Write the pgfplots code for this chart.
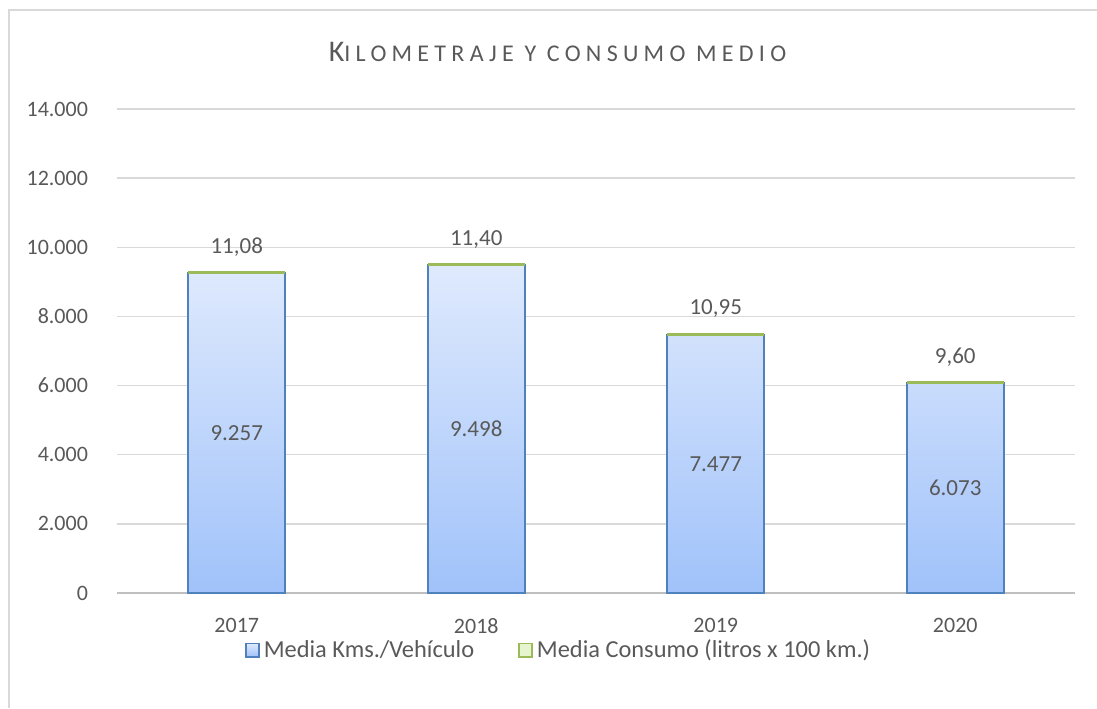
\documentclass[border=0pt]{standalone}
\usepackage{pgfplots}
\usepackage{pgfplotstable}
\pgfplotsset{compat=1.18}
\usepackage{fontspec}
\setmainfont{Carlito}
\newfontfamily\titlefont[LetterSpace=22]{Carlito}
\definecolor{txt}{RGB}{89,89,89}
\definecolor{gridc}{RGB}{217,217,217}
\definecolor{bblue}{RGB}{79,129,189}
\definecolor{btop}{RGB}{223,234,253}
\definecolor{bbot}{RGB}{160,194,250}
\definecolor{gline}{RGB}{155,187,89}
\definecolor{gfill}{RGB}{230,244,207}
\pgfplotstableread{
x kms consumo kmslab consumolab
0 9257 11.08 9.257 11,08
1 9498 11.40 9.498 11,40
2 7477 10.95 7.477 10,95
3 6073 9.60 6.073 9,60
}\datatable
\begin{document}
\begin{tikzpicture}
\path[use as bounding box] (0pt,0pt) rectangle (548.5pt,354pt);
\draw[gridc, line width=1pt] (4.5pt,0pt) -- (4.5pt,349pt) -- (548.5pt,349pt);
\node[txt, anchor=base, inner sep=0pt] at (278.75pt,323pt) {\titlefont\fontsize{15}{17}\selectfont K\fontsize{12}{14}\selectfont ILOMETRAJE Y CONSUMO MEDIO};
\begin{axis}[
  at={(58.5pt,57.5pt)}, anchor=south west,
  width=479pt, height=242pt, scale only axis,
  xmin=-0.5, xmax=3.5, ymin=0, ymax=14000,
  xtick={0,1,2,3}, xticklabels={2017,2018,2019,2020},
  ytick={0,2000,...,14000},
  scaled y ticks=false,
  ymajorgrids, grid style={gridc, line width=0.75pt},
  axis lines*=left,
  y axis line style={draw=none},
  x axis line style={draw={rgb,255:red,191;green,191;blue,191}, line width=0.75pt, -},
  major tick length=0pt,
  tick label style={font=\fontsize{11}{13}\selectfont, text=txt},
  yticklabel style={xshift=-11pt},
  xticklabel style={yshift=-9pt},
  /pgf/number format/.cd, assume math mode=true, 1000 sep={.},
  /pgfplots/.cd,
  legend columns=2,
  legend style={draw=none, fill=none, at={(0.462,-0.118)}, anchor=center,
    font=\fontsize{12.2}{14}\selectfont, text=txt,
    /tikz/every even column/.append style={column sep=20pt}},
]
\addplot[ybar, bar width=48.5pt, bar shift=0pt,
  draw=bblue, line width=1pt, top color=btop, bottom color=bbot,
  legend image code/.code={\path[draw=bblue, top color=btop, bottom color=bbot, line width=0.8pt] (0pt,-3.3pt) rectangle (6.6pt,3.3pt);}]
  table[x=x, y=kms] {\datatable};
\addlegendentry{Media Kms./Vehículo}
\addplot[only marks, mark=-, mark size=24.25pt, color=gline,
  mark options={line width=1.6pt},
  legend image code/.code={\path[draw=gline, fill=gfill, line width=0.8pt] (0pt,-3.3pt) rectangle (6.6pt,3.3pt);},
  nodes near coords, point meta=explicit symbolic,
  every node near coord/.append style={anchor=south, font=\fontsize{11.5}{13}\selectfont, text=txt, yshift=4pt}]
  table[x=x, y expr=\thisrow{kms}+\thisrow{consumo}, meta=consumolab] {\datatable};
\addlegendentry{Media Consumo (litros x 100 km.)}
\addplot[draw=none, forget plot, nodes near coords, point meta=explicit symbolic,
  every node near coord/.append style={anchor=center, font=\fontsize{11.5}{13}\selectfont, text=txt}]
  table[x=x, y expr=\thisrow{kms}/2, meta=kmslab] {\datatable};
\end{axis}
\end{tikzpicture}
\end{document}
